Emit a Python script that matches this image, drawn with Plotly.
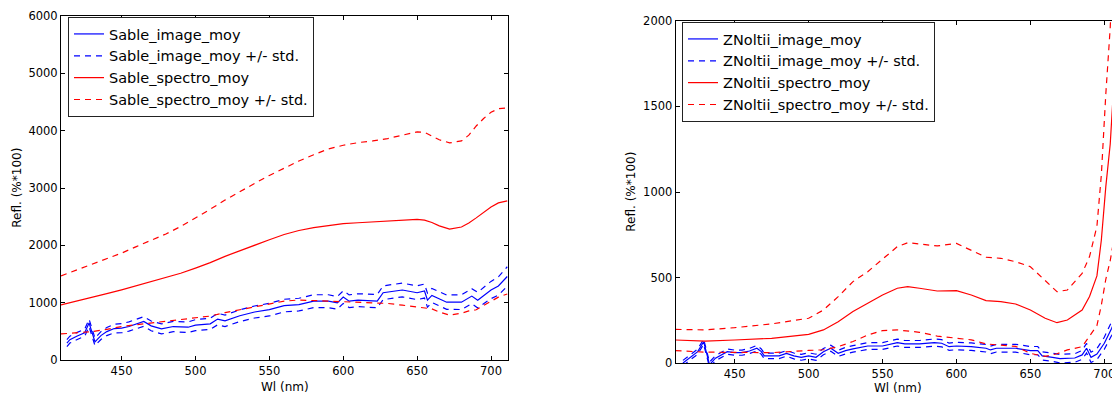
import plotly.graph_objects as go

# ---------------- Data: Sable (left) ----------------
sable_img_wl = [413, 415, 420, 425, 428, 432, 436, 440, 445, 450, 455, 460, 465, 470, 477, 485,
                495, 500, 510, 515, 520, 530, 540, 550, 560, 570, 580, 590, 596, 600, 604, 610,
                620, 623, 627, 640, 650, 655, 657, 660, 670, 680, 687, 691, 700, 705, 711]
sable_img_moy = [300, 360, 424, 480, 650, 320, 430, 500, 553, 560, 588, 635, 676, 600, 547, 588,
                 576, 612, 635, 718, 688, 776, 841, 882, 953, 970, 1029, 1029, 1000, 1100, 1029, 1047,
                 1029, 1029, 1176, 1224, 1176, 1206, 1047, 1130, 1012, 1012, 1118, 1047, 1224, 1294, 1459]
sable_img_std = [60, 60, 62, 62, 65, 65, 68, 70, 75, 80, 80, 82, 85, 85, 88, 90,
                 92, 95, 98, 100, 100, 102, 105, 110, 110, 110, 112, 112, 110, 110, 110, 112,
                 115, 115, 120, 120, 120, 122, 122, 122, 125, 128, 130, 135, 150, 160, 170]

sable_spec_wl = [409, 420, 430, 440, 450, 460, 470, 480, 490, 500, 510, 520, 530, 540, 550, 560,
                 570, 580, 590, 600, 610, 620, 630, 640, 650, 655, 660, 665, 672, 680, 685, 690,
                 695, 700, 705, 711]
sable_spec_moy = [965, 1030, 1090, 1160, 1227, 1300, 1370, 1440, 1515, 1605, 1700, 1810, 1910, 2005,
                  2099, 2190, 2260, 2310, 2350, 2378, 2395, 2410, 2425, 2440, 2455, 2440, 2400, 2340,
                  2285, 2320, 2390, 2480, 2580, 2670, 2740, 2775]
sable_spec_std = [506, 550, 590, 620, 639, 680, 720, 760, 815, 872, 930, 980, 1030, 1075, 1120, 1160,
                  1210, 1270, 1330, 1366, 1395, 1410, 1435, 1480, 1522, 1530, 1505, 1500, 1500, 1500,
                  1530, 1600, 1630, 1650, 1640, 1620]

# ---------------- Data: ZNoltii (right) ----------------
zn_img_wl = [415, 420, 425, 429, 433, 437, 440, 445, 450, 455, 460, 465, 468, 470, 480, 485, 490,
             495, 500, 505, 510, 515, 520, 525, 530, 540, 550, 560, 565, 575, 585, 590, 595, 600,
             610, 620, 623, 627, 640, 645, 650, 655, 658, 665, 670, 680, 685, 688, 691, 695, 700,
             705, 711]
zn_img_moy = [2, 35, 68, 126, -8, 30, 45, 68, 62, 62, 72, 88, 68, 43, 43, 58, 43,
              35, 43, 35, 68, 88, 58, 74, 84, 101, 101, 121, 113, 113, 121, 117, 97, 101,
              97, 88, 78, 88, 88, 82, 74, 74, 43, 35, 27, 31, 49, 88, 35, 54, 117,
              204, 330]
zn_img_std = [15, 15, 15, 15, 15, 15, 15, 15, 15, 15, 15, 16, 16, 16, 16, 16, 17,
              17, 18, 18, 18, 18, 18, 19, 19, 20, 20, 20, 20, 20, 21, 21, 21, 22,
              22, 22, 22, 22, 23, 23, 24, 24, 24, 24, 25, 25, 26, 28, 30, 32, 35,
              40, 50]

zn_spec_wl = [410, 430, 450, 475, 500, 510, 520, 530, 540, 550, 560, 567, 575, 587, 600, 610,
              620, 630, 640, 650, 660, 668, 675, 685, 690, 695, 698, 701, 704, 707, 711]
zn_spec_moy = [136, 130, 136, 146, 169, 195, 243, 302, 350, 399, 438, 447, 438, 422, 424, 399,
               366, 360, 346, 311, 263, 237, 253, 311, 390, 510, 720, 1030, 1280, 1700, 2300]
zn_spec_std = [62, 65, 72, 84, 94, 116, 146, 175, 185, 208, 243, 257, 257, 263, 276, 262,
               253, 253, 247, 253, 223, 181, 175, 214, 233, 290, 380, 540, 680, 950, 1200]

x_ticks = [450, 500, 550, 600, 650, 700]
left_y_ticks = [0, 1000, 2000, 3000, 4000, 5000, 6000]
right_y_ticks = [0, 500, 1000, 1500, 2000]

BLUE = "#0000ff"
RED = "#ff0000"
FONT = "DejaVu Sans"
DASH = "6px,5px"
LW = 1.2


def band(wl, moy, std):
    up = [m + s for m, s in zip(moy, std)]
    lo = [m - s for m, s in zip(moy, std)]
    return list(wl) + [None] + list(wl), up + [None] + lo


fig = go.Figure()


def add_set(prefix, img_wl, img_moy, img_std, spec_wl, spec_moy, spec_std, xa, ya, leg):
    fig.add_trace(go.Scatter(x=img_wl, y=img_moy, mode="lines", name=f"{prefix}_image_moy",
                             line=dict(color=BLUE, width=LW), xaxis=xa, yaxis=ya, legend=leg))
    bx, by = band(img_wl, img_moy, img_std)
    fig.add_trace(go.Scatter(x=bx, y=by, mode="lines", name=f"{prefix}_image_moy +/- std.",
                             line=dict(color=BLUE, width=LW, dash=DASH), xaxis=xa, yaxis=ya,
                             legend=leg))
    fig.add_trace(go.Scatter(x=spec_wl, y=spec_moy, mode="lines", name=f"{prefix}_spectro_moy",
                             line=dict(color=RED, width=LW), xaxis=xa, yaxis=ya, legend=leg))
    bx, by = band(spec_wl, spec_moy, spec_std)
    fig.add_trace(go.Scatter(x=bx, y=by, mode="lines", name=f"{prefix}_spectro_moy +/- std.",
                             line=dict(color=RED, width=LW, dash=DASH), xaxis=xa, yaxis=ya,
                             legend=leg))


add_set("Sable", sable_img_wl, sable_img_moy, sable_img_std,
        sable_spec_wl, sable_spec_moy, sable_spec_std, "x", "y", "legend")
add_set("ZNoltii", zn_img_wl, zn_img_moy, zn_img_std,
        zn_spec_wl, zn_spec_moy, zn_spec_std, "x2", "y2", "legend2")

W, H = 1112, 394
axis_common = dict(showgrid=False, zeroline=False, showline=True, linecolor="#000000",
                   linewidth=1, ticks="inside", ticklen=4, tickwidth=1, tickcolor="#000000",
                   automargin=False, ticklabeloverflow="allow",
                   tickfont=dict(family=FONT, size=11.5, color="#000000"))

fig.update_layout(
    width=W, height=H, autosize=False,
    margin=dict(l=0, r=0, t=0, b=0, autoexpand=False),
    paper_bgcolor="white", plot_bgcolor="white",
    font=dict(family=FONT, color="#000000"),
    xaxis=dict(domain=[61 / W, 508 / W], range=[409.0, 711.5], tickvals=x_ticks,
               mirror="allticks", anchor="y", **axis_common),
    yaxis=dict(domain=[(H - 360.3) / H, (H - 15.7) / H], range=[0, 6000], tickvals=left_y_ticks,
               mirror="allticks", anchor="x", **axis_common),
    xaxis2=dict(domain=[675.7 / W, 1.0], range=[410.1, 705.2], tickvals=x_ticks,
                mirror="allticks", anchor="y2", **axis_common),
    yaxis2=dict(domain=[(H - 363.3) / H, (H - 20.7) / H], range=[0, 2000], tickvals=right_y_ticks,
                mirror=False, anchor="x2", **axis_common),
    legend=dict(x=68 / W, y=(H - 17) / H, xanchor="left", yanchor="top",
                bordercolor="#222222", borderwidth=1, bgcolor="white",
                font=dict(family=FONT, size=14.5, color="#000000")),
    legend2=dict(x=682 / W, y=(H - 22) / H, xanchor="left", yanchor="top",
                 bordercolor="#222222", borderwidth=1, bgcolor="white",
                 font=dict(family=FONT, size=14.5, color="#000000")),
    showlegend=True,
)

ann_font = dict(family=FONT, size=12, color="#000000")
fig.add_annotation(text="Wl (nm)", x=284.5 / W, y=(H - 387) / H, xref="paper", yref="paper",
                   showarrow=False, xanchor="center", yanchor="middle", font=ann_font)
fig.add_annotation(text="Wl (nm)", x=898 / W, y=(H - 388) / H, xref="paper", yref="paper",
                   showarrow=False, xanchor="center", yanchor="middle", font=ann_font)
fig.add_annotation(text="Refl. (%*100)", x=16.7 / W, y=(H - 188) / H, xref="paper", yref="paper",
                   showarrow=False, xanchor="center", yanchor="middle", textangle=-90, font=ann_font)
fig.add_annotation(text="Refl. (%*100)", x=630.7 / W, y=(H - 192) / H, xref="paper", yref="paper",
                   showarrow=False, xanchor="center", yanchor="middle", textangle=-90, font=ann_font)

fig.write_html("out.html")
